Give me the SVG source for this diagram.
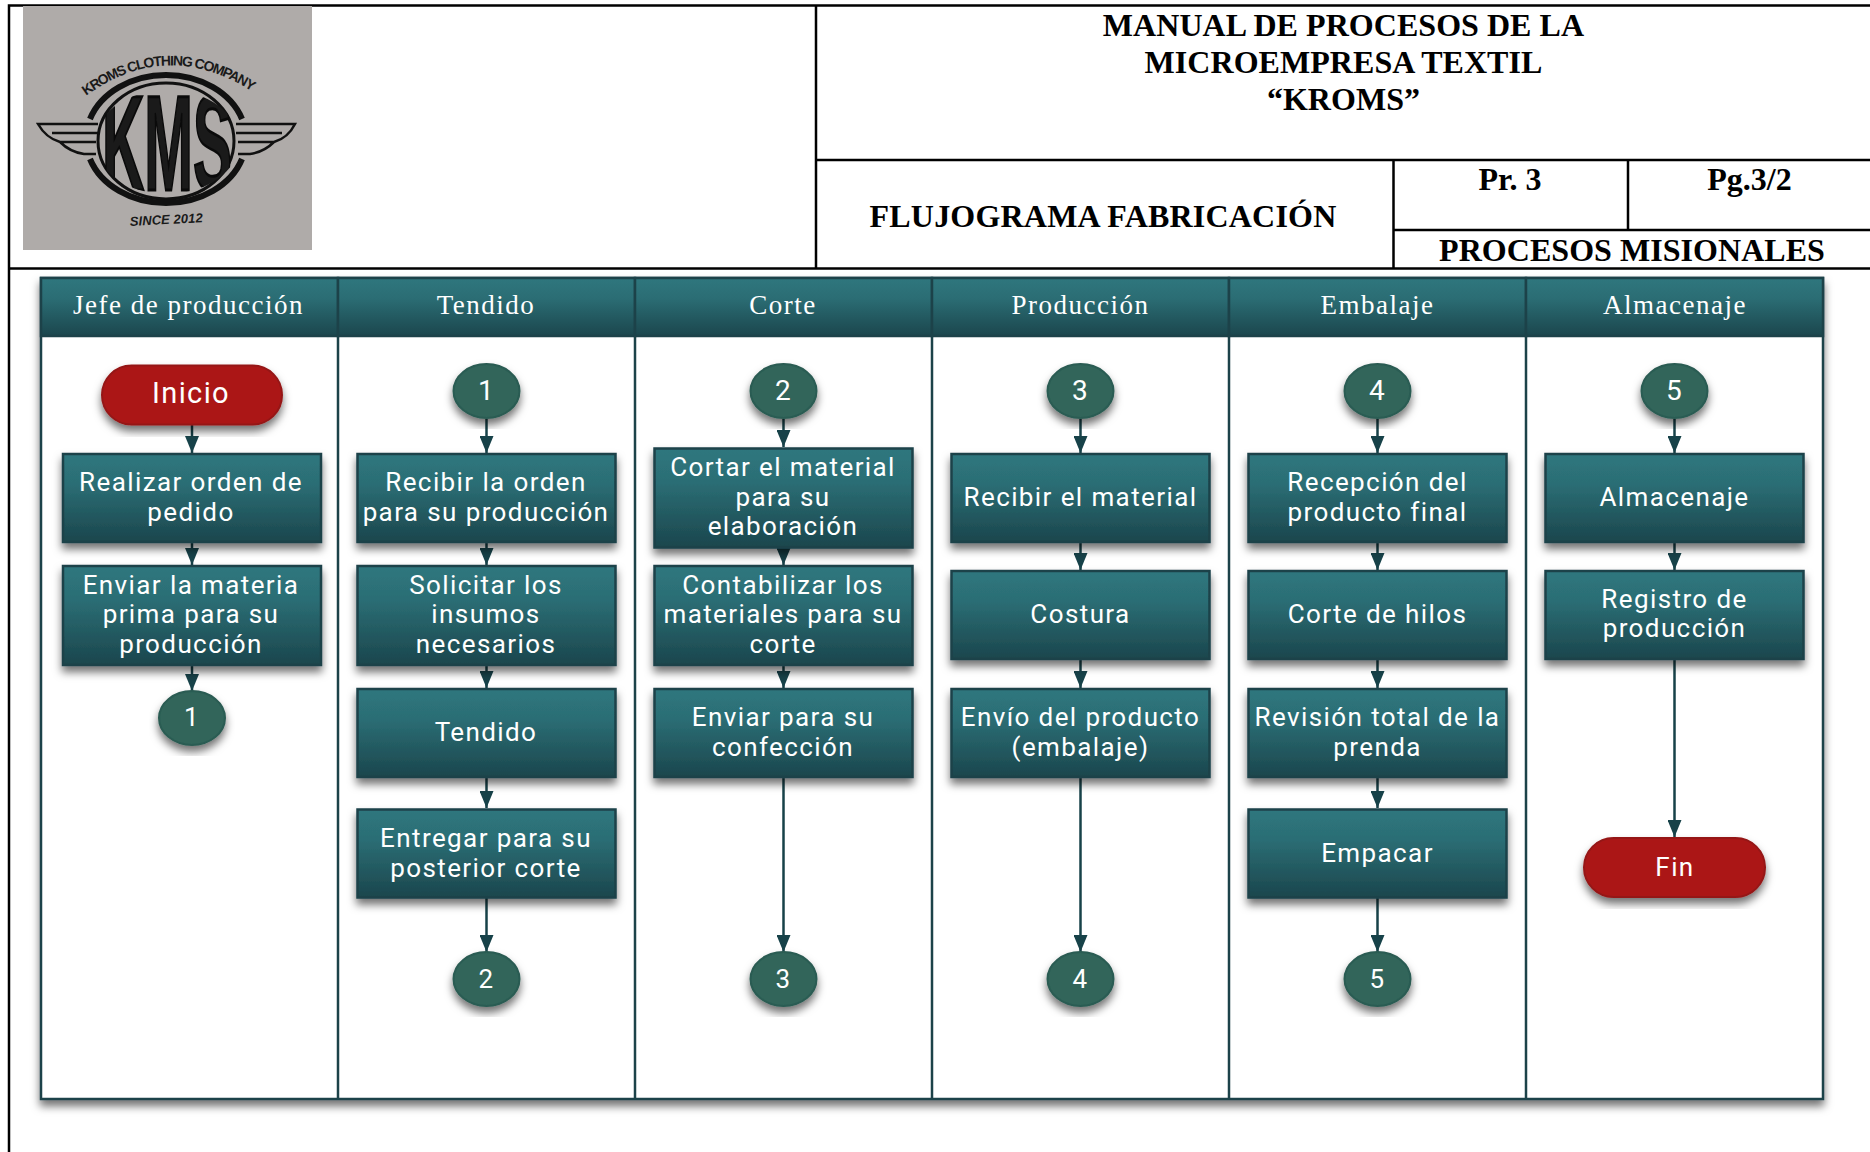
<svg xmlns="http://www.w3.org/2000/svg" width="1870" height="1152" viewBox="0 0 1870 1152">
<style>
.tb{stroke:#000;stroke-width:2.5;fill:none}
.t{font-family:"Liberation Serif",serif;font-weight:bold;fill:#000;text-anchor:middle;letter-spacing:.05px}
.hd{font-family:"Liberation Serif",serif;font-size:27px;letter-spacing:1.5px;fill:#fff;text-anchor:middle}
.n{font-family:Roboto,"Liberation Sans",sans-serif;font-size:26px;letter-spacing:1.4px;fill:#fff;text-anchor:middle}
.box{fill:url(#g);stroke:#1c4249;stroke-width:2.5;filter:url(#s)}
.lane{fill:#fff;stroke:#1c4249;stroke-width:2.5;filter:url(#s)}
.head{fill:url(#g);stroke:#1c4249;stroke-width:2.5}
.c{fill:#30655a;stroke:#2b5b52;stroke-width:2;filter:url(#s)}
.r{fill:#ab1414;stroke:#951414;stroke-width:2;filter:url(#s)}
.k{stroke:#174249;stroke-width:2.5;fill:none;marker-end:url(#a)}
.lg{fill:none;stroke:#111}
.lt{font-family:"Liberation Sans",sans-serif;font-weight:bold;fill:#1a1a1a}
</style>
<defs>
<linearGradient id="g" x1="0" y1="0" x2="0" y2="1"><stop offset="0" stop-color="#2f777e"/><stop offset="0.35" stop-color="#2b6d74"/><stop offset="1" stop-color="#1b464d"/></linearGradient>
<filter id="s" x="-15%" y="-15%" width="130%" height="135%"><feDropShadow dx="0" dy="6" stdDeviation="4" flood-color="#000" flood-opacity="0.55"/></filter>
<marker id="a" markerUnits="userSpaceOnUse" markerWidth="18" markerHeight="14" refX="17" refY="7" orient="auto"><path d="M0 0L17 7L0 14z" fill="#174249"/></marker>
<path id="arcTop" d="M86 96Q165 38 250 90"/>
<clipPath id="lens"><ellipse cx="167" cy="142" rx="72" ry="52"/></clipPath>
</defs>
<rect width="1870" height="1152" fill="#fff"/>
<g id="table">
<path class="tb" d="M9 1152V5.5H1870M9 268.5H1870M816 5.500V268.5M816 160H1870M1393.5 160V268.5M1628 160V230M1393.5 230H1870"/>
<text class="t" font-size="32" x="1343.5" y="36">MANUAL DE PROCESOS DE LA</text>
<text class="t" font-size="32" x="1343.5" y="72.5">MICROEMPRESA TEXTIL</text>
<text class="t" font-size="32" x="1343.5" y="110">“KROMS”</text>
<text class="t" font-size="32" x="1103" y="227" style="letter-spacing:.2px">FLUJOGRAMA FABRICACIÓN</text>
<text class="t" font-size="32" x="1510" y="190">Pr. 3</text>
<text class="t" font-size="32" x="1749.5" y="190">Pg.3/2</text>
<text class="t" font-size="32" x="1632" y="261">PROCESOS MISIONALES</text>
</g>
<g id="logo">
<rect x="23" y="6" width="289" height="244" fill="#afaba9"/>
<ellipse class="lg" cx="166" cy="141" rx="68" ry="58" stroke-width="3"/>
<path class="lg" stroke-width="6" d="M90 119A80 64 0 0 1 242 119M90 159A80 64 0 0 0 242 159"/>
<g clip-path="url(#lens)"><text class="lt" font-size="136" transform="translate(167,190) scale(.43,1)" text-anchor="middle" fill="#0a0a0a" stroke="#0a0a0a" stroke-width="3">KMS</text></g>
<text class="lt" font-size="14" textLength="178"><textPath href="#arcTop">KROMS CLOTHING COMPANY</textPath></text>
<text class="lt" font-size="13" font-style="italic" textLength="73" transform="translate(130,226) rotate(-3)">SINCE 2012</text>
<path class="lg" stroke-width="2.5" d="M98 124H38Q46 138 60 142H96M52 133H98M60 142Q70 152 84 154H96M236 124H295Q288 138 274 142H238M282 133H236M274 142Q264 152 250 154H238"/>
</g>
<g id="lanes">
<rect class="lane" x="41" y="278" width="1782" height="821"/>
<g id="lane-head">
<rect class="head" x="41" y="278" width="297" height="58"/>
<rect class="head" x="338" y="278" width="297" height="58"/>
<rect class="head" x="635" y="278" width="297" height="58"/>
<rect class="head" x="932" y="278" width="297" height="58"/>
<rect class="head" x="1229" y="278" width="297" height="58"/>
<rect class="head" x="1526" y="278" width="297" height="58"/>
</g>
<path stroke="#1c4249" stroke-width="2.5" fill="none" d="M338 336V1099M635 336V1099M932 336V1099M1229 336V1099M1526 336V1099"/>
<text class="hd" x="188.500" y="314">Jefe de producción</text>
<text class="hd" x="486" y="314">Tendido</text>
<text class="hd" x="783" y="314">Corte</text>
<text class="hd" x="1080.500" y="314">Producción</text>
<text class="hd" x="1377.500" y="314">Embalaje</text>
<text class="hd" x="1675" y="314">Almacenaje</text>
</g>
<g id="connectors">
<path class="k" d="M192 425V453"/><path class="k" d="M192 543V565"/><path class="k" d="M192 666V691"/>
<path class="k" d="M486.500 419V453"/><path class="k" d="M486.500 543V565"/><path class="k" d="M486.500 666V688"/><path class="k" d="M486.500 898V952"/><path class="k" d="M486.500 778V808"/>
<path class="k" d="M783.500 419V447"/><path class="k" d="M783.500 549V565"/><path class="k" d="M783.500 666V688"/><path class="k" d="M783.500 778V952"/>
<path class="k" d="M1080.500 419V453"/><path class="k" d="M1080.500 543V570"/><path class="k" d="M1080.500 660V688"/><path class="k" d="M1080.500 778V952"/>
<path class="k" d="M1377.500 419V453"/><path class="k" d="M1377.500 543V570"/><path class="k" d="M1377.500 660V688"/><path class="k" d="M1377.500 778V808"/><path class="k" d="M1377.500 898V952"/>
<path class="k" d="M1674.500 419V453"/><path class="k" d="M1674.500 543V570"/><path class="k" d="M1674.500 660V837"/>
</g>
<g id="n-inicio"><rect class="r" x="102" y="365.500" width="180" height="59" rx="29.500"/><text class="n" x="191" y="403" style="font-size:29px">Inicio</text></g>
<g id="n-realizar"><rect class="box" x="63" y="454" width="258" height="88"/><text class="n" x="191" y="491">Realizar orden de</text><text class="n" x="191" y="520.500">pedido</text></g>
<g id="n-enviar"><rect class="box" x="63" y="566" width="258" height="99"/><text class="n" x="191" y="594">Enviar la materia</text><text class="n" x="191" y="623">prima para su</text><text class="n" x="191" y="653">producción</text></g>
<g id="n-c1a"><ellipse class="c" cx="192" cy="718" rx="33" ry="27"/><text class="n" x="192" y="726">1</text></g>
<g id="n-c1b"><ellipse class="c" cx="486.500" cy="391" rx="33" ry="27"/><text class="n" x="486.500" y="400" style="font-size:28px">1</text></g>
<g id="n-recibir"><rect class="box" x="357.500" y="454" width="258" height="88"/><text class="n" x="486" y="491">Recibir la orden</text><text class="n" x="486" y="520.500">para su producción</text></g>
<g id="n-solicitar"><rect class="box" x="357.500" y="566" width="258" height="99"/><text class="n" x="486" y="594">Solicitar los</text><text class="n" x="486" y="623">insumos</text><text class="n" x="486" y="653">necesarios</text></g>
<g id="n-tendido"><rect class="box" x="357.500" y="689" width="258" height="88"/><text class="n" x="486" y="741">Tendido</text></g>
<g id="n-entregar"><rect class="box" x="357.500" y="809.500" width="258" height="88"/><text class="n" x="486" y="847">Entregar para su</text><text class="n" x="486" y="877">posterior corte</text></g>
<g id="n-c2a"><ellipse class="c" cx="486.500" cy="979" rx="33" ry="27"/><text class="n" x="486.500" y="988">2</text></g>
<g id="n-c2b"><ellipse class="c" cx="783.500" cy="391" rx="33" ry="27"/><text class="n" x="783.500" y="400" style="font-size:28px">2</text></g>
<g id="n-cortar"><rect class="box" x="654.500" y="448.500" width="258" height="99"/><text class="n" x="783" y="475.500">Cortar el material</text><text class="n" x="783" y="505.500">para su</text><text class="n" x="783" y="535">elaboración</text></g>
<g id="n-contab"><rect class="box" x="654.500" y="566" width="258" height="99"/><text class="n" x="783" y="594">Contabilizar los</text><text class="n" x="783" y="623">materiales para su</text><text class="n" x="783" y="653">corte</text></g>
<g id="n-enviarp"><rect class="box" x="654.500" y="689" width="258" height="88"/><text class="n" x="783" y="725.500">Enviar para su</text><text class="n" x="783" y="755.500">confección</text></g>
<g id="n-c3a"><ellipse class="c" cx="783.500" cy="979" rx="33" ry="27"/><text class="n" x="783.500" y="988">3</text></g>
<g id="n-c3b"><ellipse class="c" cx="1080.500" cy="391" rx="33" ry="27"/><text class="n" x="1080.500" y="400" style="font-size:28px">3</text></g>
<g id="n-recmat"><rect class="box" x="951.500" y="454" width="258" height="88"/><text class="n" x="1080.500" y="505.500">Recibir el material</text></g>
<g id="n-costura"><rect class="box" x="951.500" y="571" width="258" height="88"/><text class="n" x="1080.500" y="623">Costura</text></g>
<g id="n-envio"><rect class="box" x="951.500" y="689" width="258" height="88"/><text class="n" x="1080.500" y="725.500">Envío del producto</text><text class="n" x="1080.500" y="755.500">(embalaje)</text></g>
<g id="n-c4a"><ellipse class="c" cx="1080.500" cy="979" rx="33" ry="27"/><text class="n" x="1080.500" y="988">4</text></g>
<g id="n-c4b"><ellipse class="c" cx="1377.500" cy="391" rx="33" ry="27"/><text class="n" x="1377.500" y="400" style="font-size:28px">4</text></g>
<g id="n-recep"><rect class="box" x="1248.500" y="454" width="258" height="88"/><text class="n" x="1377.500" y="491">Recepción del</text><text class="n" x="1377.500" y="520.500">producto final</text></g>
<g id="n-hilos"><rect class="box" x="1248.500" y="571" width="258" height="88"/><text class="n" x="1377.500" y="623">Corte de hilos</text></g>
<g id="n-revision"><rect class="box" x="1248.500" y="689" width="258" height="88"/><text class="n" x="1377.500" y="725.500">Revisión total de la</text><text class="n" x="1377.500" y="755.500">prenda</text></g>
<g id="n-empacar"><rect class="box" x="1248.500" y="809.500" width="258" height="88"/><text class="n" x="1377.500" y="861.500">Empacar</text></g>
<g id="n-c5a"><ellipse class="c" cx="1377.500" cy="979" rx="33" ry="27"/><text class="n" x="1377.500" y="988">5</text></g>
<g id="n-c5b"><ellipse class="c" cx="1674.500" cy="391" rx="33" ry="27"/><text class="n" x="1674.500" y="400" style="font-size:28px">5</text></g>
<g id="n-almacenaje"><rect class="box" x="1545.500" y="454" width="258" height="88"/><text class="n" x="1674.500" y="505.500">Almacenaje</text></g>
<g id="n-registro"><rect class="box" x="1545.500" y="571" width="258" height="88"/><text class="n" x="1674.500" y="607.500">Registro de</text><text class="n" x="1674.500" y="637">producción</text></g>
<g id="n-fin"><rect class="r" x="1584" y="838" width="181" height="59" rx="29.500"/><text class="n" x="1675" y="876">Fin</text></g>
</svg>
